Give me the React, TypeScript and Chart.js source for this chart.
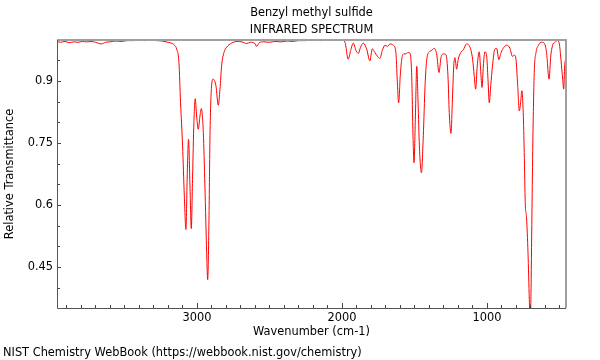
import React, { useEffect, useRef } from "react";
import { Chart, registerables } from "chart.js";

Chart.register(...registerables);

const TITLE_LINES = ["Benzyl methyl sulfide", "INFRARED SPECTRUM"];
const X_TITLE = "Wavenumber (cm-1)";
const Y_TITLE = "Relative Transmittance";
const FOOTER = "NIST Chemistry WebBook (https://webbook.nist.gov/chemistry)";

const X_MIN = 455;
const X_MAX = 3965;
const Y_MIN = 0.3515;
const Y_MAX = 0.9985;

const xMajorTicks = [3000, 2000, 1000];
const xMinorTicks = [3900, 3800, 3700, 3600, 3500, 3400, 3300, 3200, 3100, 2900, 2800, 2700, 2600, 2500, 2400, 2300, 2200, 2100, 1900, 1800, 1700, 1600, 1500, 1400, 1300, 1200, 1100, 900, 800, 700, 600, 500];
const yMajorTicks = [0.45, 0.6, 0.75, 0.9];
const yMinorTicks = [0.4, 0.5, 0.55, 0.65, 0.7, 0.8, 0.85, 0.95];

const wavenumbers = [
  3965, 3940, 3910, 3880, 3850, 3820, 3790, 3760, 3730, 3700, 3660, 3630, 3600, 3560, 3520, 3480, 3440, 3400, 3360, 3320, 3280, 3240, 3200, 3170, 3152,
  3140, 3124, 3113, 3099, 3087, 3076, 3067, 3058, 3048, 3039, 3030, 3021, 3012, 3002, 2991, 2979, 2970, 2956, 2945, 2933, 2926, 2917, 2910, 2899, 2888,
  2869, 2853, 2841, 2830, 2814, 2795, 2761, 2720, 2690, 2657, 2630, 2600, 2588, 2570, 2540, 2500, 2460, 2420, 2380, 2340, 2300, 2250, 2200, 2150, 2100,
  2050, 2000, 1979, 1957, 1940, 1922, 1903, 1887, 1872, 1853, 1830, 1807, 1791, 1772, 1755, 1739, 1722, 1703, 1686, 1669, 1646, 1628, 1619, 1609, 1598,
  1586, 1572, 1559, 1547, 1531, 1519, 1510, 1503, 1494, 1484, 1475, 1466, 1452, 1439, 1427, 1415, 1397, 1383, 1365, 1347, 1331, 1317, 1301, 1283, 1269,
  1260, 1248, 1239, 1229, 1221, 1209, 1198, 1181, 1163, 1141, 1117, 1099, 1088, 1078, 1067, 1053, 1044, 1034, 1025, 1014, 1002, 993, 984, 974, 962,
  945, 933, 918, 903, 883, 863, 841, 825, 811, 800, 788, 777, 768, 759, 750, 743, 736, 727, 717, 708, 703, 699, 696, 689, 683,
  674, 662, 646, 623, 605, 589, 572, 560, 547, 531, 515, 501, 490, 478, 471, 464, 457, 455,
];

const transmittance = [
  0.995, 0.993, 0.995, 0.992, 0.994, 0.993, 0.995, 0.994, 0.995, 0.993, 0.989, 0.993, 0.994, 0.996, 0.995, 0.997, 0.997, 0.998, 0.997, 0.998, 0.997, 0.996, 0.993, 0.99, 0.985,
  0.977, 0.944, 0.847, 0.743, 0.622, 0.541, 0.67, 0.759, 0.646, 0.543, 0.67, 0.799, 0.857, 0.815, 0.783, 0.815, 0.833, 0.775, 0.646, 0.485, 0.42, 0.565, 0.767, 0.888, 0.904,
  0.888, 0.841, 0.88, 0.936, 0.968, 0.981, 0.991, 0.995, 0.994, 0.99, 0.993, 0.99, 0.983, 0.992, 0.994, 0.993, 0.995, 0.994, 0.996, 0.995, 0.997, 0.997, 0.998, 0.997, 0.998,
  0.998, 0.998, 0.993, 0.952, 0.973, 0.991, 0.973, 0.966, 0.981, 0.991, 0.977, 0.948, 0.977, 0.968, 0.959, 0.954, 0.973, 0.986, 0.983, 0.989, 0.986, 0.968, 0.904, 0.847, 0.912,
  0.956, 0.965, 0.965, 0.968, 0.967, 0.912, 0.767, 0.702, 0.807, 0.935, 0.847, 0.743, 0.678, 0.767, 0.888, 0.952, 0.97, 0.973, 0.978, 0.965, 0.92, 0.956, 0.965, 0.963, 0.912,
  0.823, 0.773, 0.847, 0.936, 0.956, 0.928, 0.952, 0.968, 0.975, 0.989, 0.981, 0.952, 0.912, 0.88, 0.936, 0.97, 0.928, 0.884, 0.936, 0.97, 0.96, 0.904, 0.847, 0.888, 0.936,
  0.977, 0.978, 0.951, 0.968, 0.981, 0.986, 0.978, 0.959, 0.962, 0.952, 0.888, 0.827, 0.847, 0.876, 0.823, 0.727, 0.606, 0.569, 0.485, 0.372, 0.33, 0.34, 0.397, 0.606, 0.767,
  0.92, 0.968, 0.985, 0.993, 0.991, 0.968, 0.904, 0.96, 0.986, 0.993, 0.997, 0.989, 0.952, 0.904, 0.88, 0.936, 0.951, 0.95,
];

const FONT_FAMILY = "'DejaVu Sans', sans-serif";
const FONT = `11.4px ${FONT_FAMILY}`;

const decorPlugin = {
  id: "decor",
  afterDraw(chart: any) {
    const { ctx, chartArea: a, scales } = chart;
    const xs = scales.x;
    const ys = scales.y;
    ctx.save();
    ctx.strokeStyle = "#444";
    ctx.lineWidth = 1;
    ctx.beginPath();
    const xTick = (v: number, len: number) => {
      const px = Math.round(xs.getPixelForValue(v)) + 0.5;
      ctx.moveTo(px, a.bottom);
      ctx.lineTo(px, a.bottom - len);
    };
    const yTick = (v: number, len: number) => {
      const py = Math.round(ys.getPixelForValue(v)) + 0.5;
      ctx.moveTo(a.left, py);
      ctx.lineTo(a.left + len, py);
    };
    xMinorTicks.forEach((v) => xTick(v, 3));
    xMajorTicks.forEach((v) => xTick(v, 5));
    yMinorTicks.forEach((v) => yTick(v, 3));
    yMajorTicks.forEach((v) => yTick(v, 4));
    ctx.stroke();

    ctx.strokeStyle = "#a0a0a0";
    ctx.lineWidth = 2;
    ctx.beginPath();
    ctx.moveTo(a.left, a.top);
    ctx.lineTo(a.right, a.top);
    ctx.lineTo(a.right, a.bottom);
    ctx.stroke();
    ctx.strokeStyle = "#555";
    ctx.lineWidth = 1;
    ctx.beginPath();
    ctx.moveTo(a.left + 0.5, a.top);
    ctx.lineTo(a.left + 0.5, a.bottom + 0.5);
    ctx.lineTo(a.right, a.bottom + 0.5);
    ctx.stroke();

    ctx.fillStyle = "#000";
    ctx.font = FONT;
    ctx.textAlign = "center";
    ctx.textBaseline = "middle";
    const cx = (a.left + a.right) / 2;
    ctx.fillText(TITLE_LINES[0], cx, 13);
    ctx.fillText(TITLE_LINES[1], cx, 30);
    ctx.fillText(X_TITLE, cx, 332);
    ctx.textAlign = "left";
    ctx.fillText(FOOTER, 3, 353);
    ctx.save();
    ctx.translate(10, (a.top + a.bottom) / 2);
    ctx.rotate(-Math.PI / 2);
    ctx.textAlign = "center";
    ctx.fillText(Y_TITLE, 0, 0);
    ctx.restore();
    ctx.restore();
  },
};

export default function App() {
  const ref = useRef<HTMLCanvasElement | null>(null);

  useEffect(() => {
    if (!ref.current) return;
    const points = wavenumbers.map((w, i) => ({ x: w, y: transmittance[i] }));
    const chart = new Chart(ref.current, {
      type: "line",
      data: {
        datasets: [
          {
            data: points,
            borderColor: "rgb(255,0,0)",
            borderWidth: 1,
            pointRadius: 0,
            fill: false,
            cubicInterpolationMode: "monotone",
          },
        ],
      },
      options: {
        animation: false,
        responsive: false,
        devicePixelRatio: 1,
        layout: { padding: { top: 40, right: 34, bottom: 20, left: 0 } },
        plugins: { legend: { display: false }, tooltip: { enabled: false }, title: { display: false } },
        scales: {
          x: {
            type: "linear",
            reverse: true,
            min: X_MIN,
            max: X_MAX,
            border: { display: false },
            grid: { display: false, drawTicks: false, tickLength: 0 },
            afterBuildTicks: (s: any) => {
              s.ticks = xMajorTicks.map((v) => ({ value: v }));
            },
            afterFit: (s: any) => {
              s.height = 32;
            },
            ticks: {
              autoSkip: false,
              maxRotation: 0,
              padding: 3,
              color: "#000",
              font: { family: FONT_FAMILY, size: 11.4 },
              callback: (v: any) => String(v),
            },
          },
          y: {
            type: "linear",
            min: Y_MIN,
            max: Y_MAX,
            border: { display: false },
            grid: { display: false, drawTicks: false, tickLength: 0 },
            afterBuildTicks: (s: any) => {
              s.ticks = yMajorTicks.map((v) => ({ value: v }));
            },
            afterFit: (s: any) => {
              s.width = 57;
            },
            ticks: {
              autoSkip: false,
              padding: 4,
              color: "#000",
              font: { family: FONT_FAMILY, size: 11.4 },
              callback: (v: any) => String(Math.round(v * 100) / 100),
            },
          },
        },
      },
      plugins: [decorPlugin],
    });
    return () => chart.destroy();
  }, []);

  return (
    <div style={{ position: "fixed", left: 0, top: 0, width: 600, height: 360, background: "#fff" }}>
      <canvas ref={ref} width={600} height={360} style={{ display: "block" }} />
    </div>
  );
}
